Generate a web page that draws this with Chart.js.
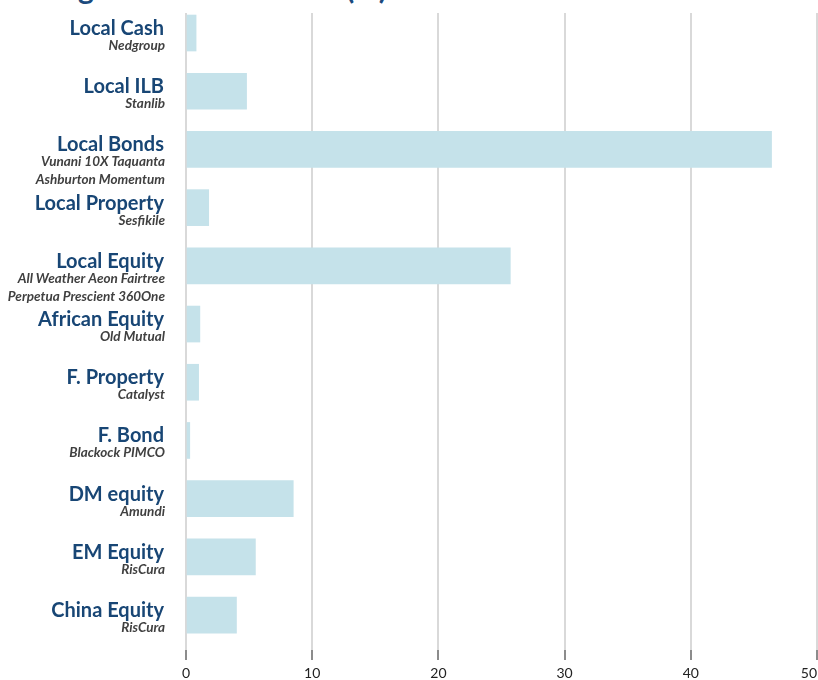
<!DOCTYPE html>
<html>
<head>
<meta charset="utf-8">
<script src="https://cdn.jsdelivr.net/npm/chart.js@4/dist/chart.umd.min.js"></script>
<style>
  html, body { margin: 0; padding: 0; background: #ffffff; }
  #wrap { position: relative; width: 818px; height: 680px; overflow: hidden; background: #fff; }
  #title { position: absolute; left: -2px; top: -33px; font: bold 30px Lato, "Open Sans", sans-serif; line-height: 40px; color: #1b4a7d; white-space: nowrap; }
  canvas { position: absolute; left: 0; top: 0; }
</style>
</head>
<body>
<div id="wrap">
  <div id="title">Strategic Asset Allocation (%)</div>
  <canvas id="c" width="818" height="680"></canvas>
</div>
<script>
const categories = ['Local Cash', 'Local ILB', 'Local Bonds', 'Local Property', 'Local Equity', 'African Equity', 'F. Property', 'F. Bond', 'DM equity', 'EM Equity', 'China Equity'];
const managers = [
  ['Nedgroup'],
  ['Stanlib'],
  ['Vunani 10X Taquanta', 'Ashburton Momentum'],
  ['Sesfikile'],
  ['All Weather Aeon Fairtree', 'Perpetua Prescient 360One'],
  ['Old Mutual'],
  ['Catalyst'],
  ['Blackock PIMCO'],
  ['Amundi'],
  ['RisCura'],
  ['RisCura']
];
const allocation = [0.8, 4.8, 46.4, 1.8, 25.7, 1.1, 1.0, 0.3, 8.5, 5.5, 4.0];
const xTicks = [0, 10, 20, 30, 40, 50];

const labelPlugin = {
  id: 'labelPlugin',
  afterDraw(chart) {
    const ctx = chart.ctx;
    const ys = chart.scales.y;
    const xs = chart.scales.x;
    ctx.save();
    ctx.textAlign = 'right';
    ctx.textBaseline = 'alphabetic';
    categories.forEach((cat, i) => {
      const y = ys.getPixelForValue(i);
      ctx.font = 'bold 20px Lato, "Open Sans", sans-serif';
      ctx.fillStyle = '#184675';
      ctx.fillText(cat, 164, y + 2);
      ctx.font = 'italic bold 13.5px Lato, "Open Sans", sans-serif';
      ctx.fillStyle = '#404040';
      managers[i].forEach((m, j) => {
        ctx.fillText(m, 165, y + 17 + j * 18);
      });
    });
    ctx.font = '14px Lato, "Open Sans", sans-serif';
    ctx.fillStyle = '#222222';
    ctx.textAlign = 'center';
    ctx.textBaseline = 'alphabetic';
    xTicks.forEach(v => {
      const txt = String(v);
      const w = ctx.measureText(txt).width;
      let x = xs.getPixelForValue(v);
      x = Math.min(x, chart.width - w / 2 - 1);
      ctx.fillText(txt, x, 678);
    });
    ctx.restore();
  }
};

new Chart(document.getElementById('c'), {
  type: 'bar',
  data: {
    datasets: [{
      data: allocation.map((v, i) => ({ x: v, y: i })),
      backgroundColor: '#c5e2ea',
      borderWidth: 0,
      barThickness: 36
    }]
  },
  options: {
    indexAxis: 'y',
    responsive: false,
    animation: false,
    layout: { padding: { top: 13, left: 186, right: 1, bottom: 20 } },
    plugins: { legend: { display: false }, tooltip: { enabled: false }, title: { display: false } },
    scales: {
      x: {
        type: 'linear',
        min: 0,
        max: 50,
        afterBuildTicks: (axis) => { axis.ticks = xTicks.map(v => ({ value: v })); },
        ticks: { display: false },
        grid: { color: '#d9d9d9', lineWidth: 2, drawTicks: true, tickLength: 10, tickColor: '#8c8c8c', tickWidth: 2 },
        border: { display: false }
      },
      y: {
        type: 'linear',
        reverse: true,
        offset: false,
        min: -0.344,
        max: 10.6,
        display: false,
        grid: { display: false, offset: false }
      }
    }
  },
  plugins: [labelPlugin]
});
</script>
</body>
</html>
